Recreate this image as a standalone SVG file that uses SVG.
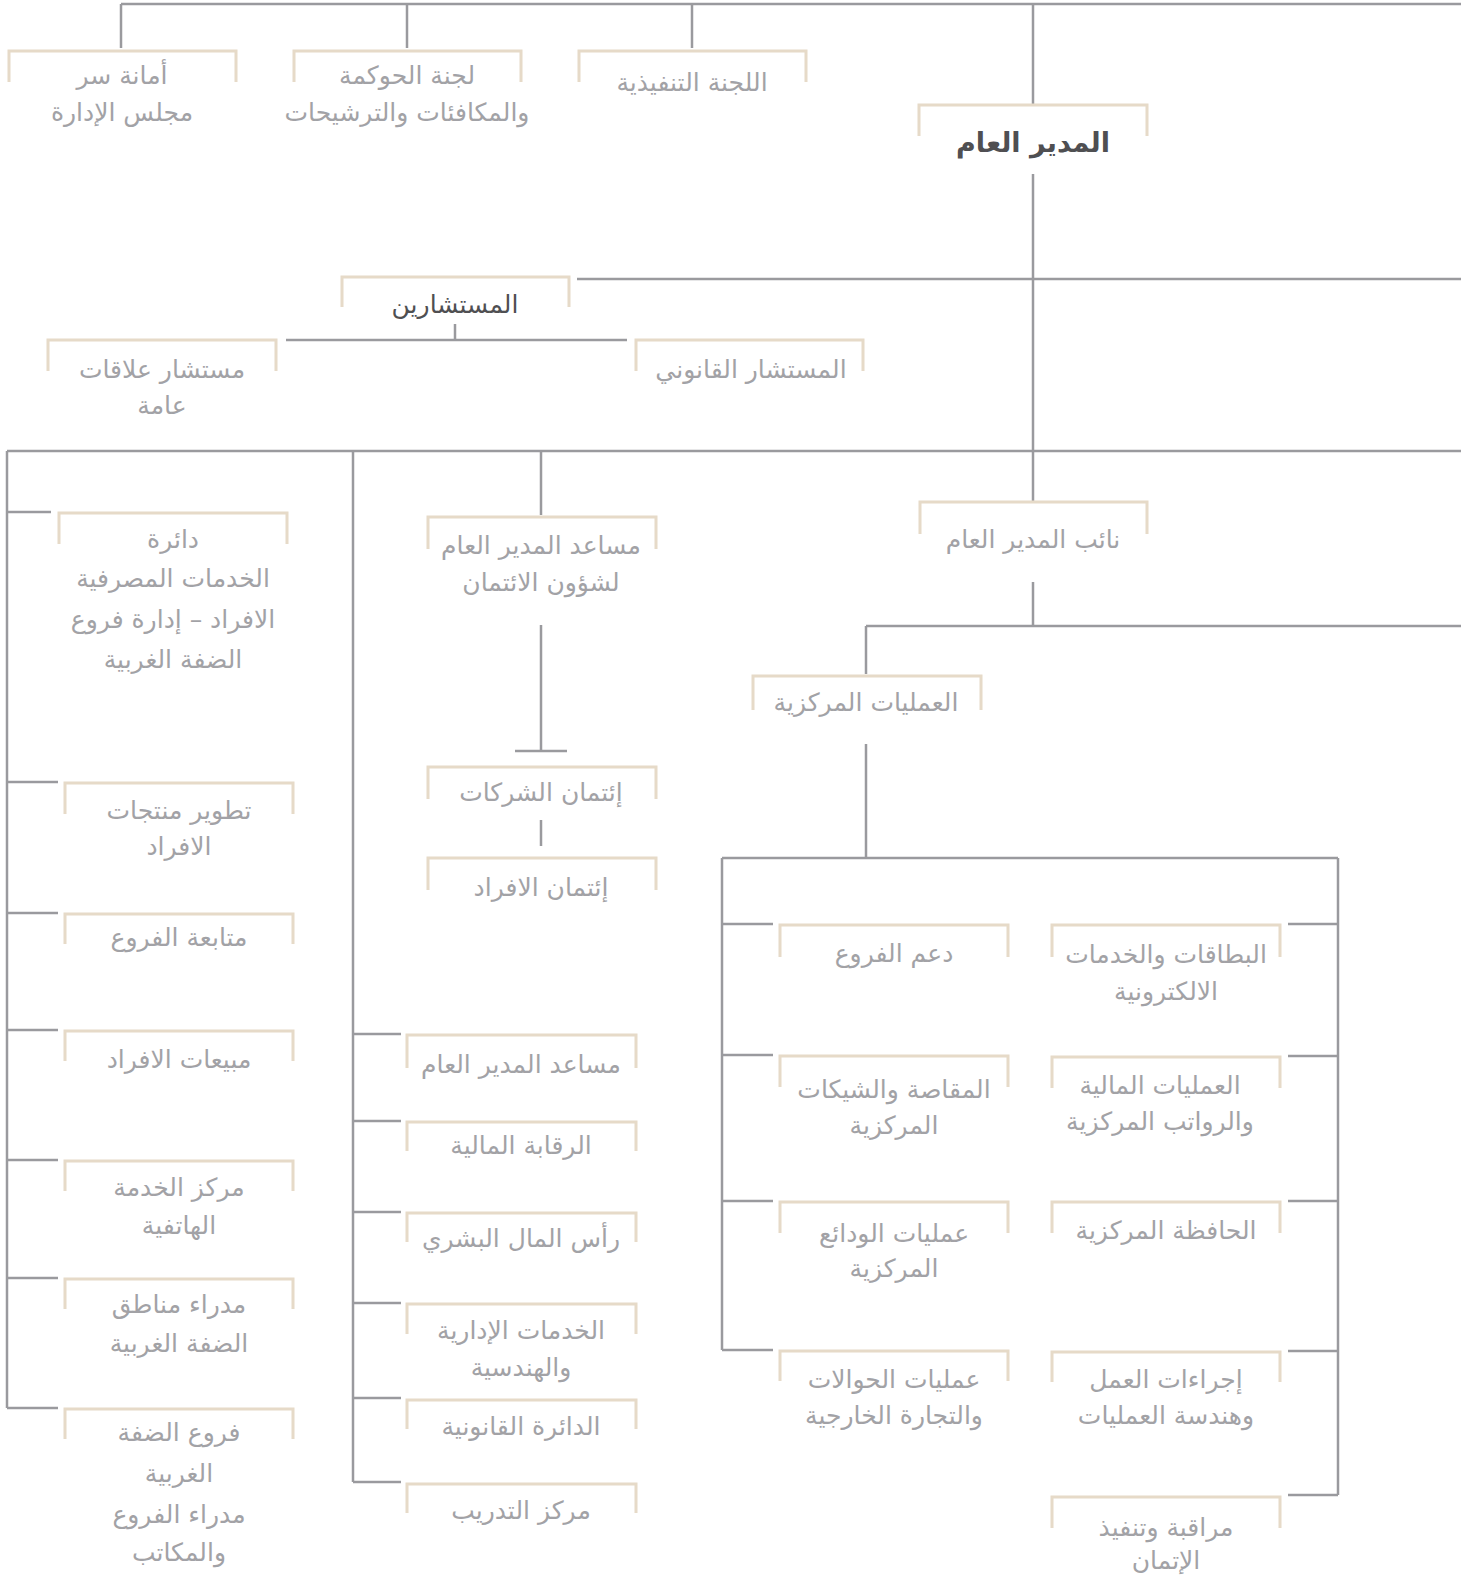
<svg xmlns="http://www.w3.org/2000/svg" width="1461" height="1580" viewBox="0 0 1461 1580">
<style>
.c{fill:none;stroke:#9a9a9e;stroke-width:2.5}
.b{fill:none;stroke:#e6dac8;stroke-width:3}
.t{font-family:"DejaVu Sans",sans-serif;font-size:25px;fill:#a2a2a6;text-anchor:middle}
.d{fill:#4f4f52}
.bold{font-weight:bold;font-size:27px}
</style>
<rect width="1461" height="1580" fill="#ffffff"/>
<g id="connectors">
<path class="c" d="M121,4 H1461 M121,4 V48 M407,4 V48 M692,4 V48 M1033,4 V104"/>
<path class="c" d="M1033,174 V501 M577,279 H1461 M455,324 V340 M286,340 H627"/>
<path class="c" d="M7,451 H1461 M7,451 V1408 M353,451 V1482 M541,451 V515"/>
<path class="c" d="M7,512 H51 M7,782 H58 M7,913 H58 M7,1030 H58 M7,1160 H58 M7,1278 H58 M7,1408 H58"/>
<path class="c" d="M353,1034 H401 M353,1121 H401 M353,1212 H401 M353,1303 H401 M353,1398 H401 M353,1482 H401"/>
<path class="c" d="M541,625 V751 M515,751 H567 M541,820 V846"/>
<path class="c" d="M1033,582 V626 M866,626 H1461 M866,626 V674 M866,744 V858"/>
<path class="c" d="M722,858 H1338 M722,858 V1350 M1338,858 V1495"/>
<path class="c" d="M722,924 H773 M722,1055 H773 M722,1201 H773 M722,1350 H773"/>
<path class="c" d="M1288,924 H1338 M1288,1056 H1338 M1288,1201 H1338 M1288,1351 H1338 M1288,1495 H1338"/>
</g>
<g id="n-amanat">
<path class="b" d="M9,82 V51 H236 V82"/>
<text class="t" x="122" y="84">أمانة سر</text>
<text class="t" x="122" y="121">مجلس الإدارة</text>
</g>
<g id="n-governance">
<path class="b" d="M294,82 V51 H521 V82"/>
<text class="t" x="407" y="84">لجنة الحوكمة</text>
<text class="t" x="407" y="121">والمكافئات والترشيحات</text>
</g>
<g id="n-executive">
<path class="b" d="M579,82 V51 H806 V82"/>
<text class="t" x="692" y="91">اللجنة التنفيذية</text>
</g>
<g id="n-gm">
<path class="b" d="M919,136 V105 H1147 V136"/>
<text class="t d bold" x="1033" y="152">المدير العام</text>
</g>
<g id="n-advisors">
<path class="b" d="M342,307 V277 H569 V307"/>
<text class="t d" x="455" y="313">المستشارين</text>
</g>
<g id="n-pr">
<path class="b" d="M48,371 V340 H276 V371"/>
<text class="t" x="162" y="378">مستشار علاقات</text>
<text class="t" x="162" y="414">عامة</text>
</g>
<g id="n-legal-adv">
<path class="b" d="M636,371 V340 H863 V371"/>
<text class="t" x="751" y="378">المستشار القانوني</text>
</g>
<g id="n-retail">
<path class="b" d="M59,544 V513 H287 V544"/>
<text class="t" x="173" y="548">دائرة</text>
<text class="t" x="173" y="587">الخدمات المصرفية</text>
<text class="t" x="173" y="628">الافراد – إدارة فروع</text>
<text class="t" x="173" y="668">الضفة الغربية</text>
</g>
<g id="n-product">
<path class="b" d="M65,814 V783 H293 V814"/>
<text class="t" x="179" y="819">تطوير منتجات</text>
<text class="t" x="179" y="855">الافراد</text>
</g>
<g id="n-branch-follow">
<path class="b" d="M65,944 V914 H293 V944"/>
<text class="t" x="179" y="946">متابعة الفروع</text>
</g>
<g id="n-sales">
<path class="b" d="M65,1061 V1031 H293 V1061"/>
<text class="t" x="179" y="1068">مبيعات الافراد</text>
</g>
<g id="n-callcenter">
<path class="b" d="M65,1191 V1161 H293 V1191"/>
<text class="t" x="179" y="1196">مركز الخدمة</text>
<text class="t" x="179" y="1234">الهاتفية</text>
</g>
<g id="n-regions">
<path class="b" d="M65,1309 V1279 H293 V1309"/>
<text class="t" x="179" y="1313">مدراء مناطق</text>
<text class="t" x="179" y="1352">الضفة الغربية</text>
</g>
<g id="n-wb-branches">
<path class="b" d="M65,1439 V1409 H293 V1439"/>
<text class="t" x="179" y="1441">فروع الضفة</text>
<text class="t" x="179" y="1482">الغربية</text>
<text class="t" x="179" y="1523">مدراء الفروع</text>
<text class="t" x="179" y="1561">والمكاتب</text>
</g>
<g id="n-agm-credit">
<path class="b" d="M428,549 V517 H656 V549"/>
<text class="t" x="541" y="554">مساعد المدير العام</text>
<text class="t" x="541" y="591">لشؤون الائتمان</text>
</g>
<g id="n-corp-credit">
<path class="b" d="M428,799 V767 H656 V799"/>
<text class="t" x="541" y="801">إئتمان الشركات</text>
</g>
<g id="n-retail-credit">
<path class="b" d="M428,890 V858 H656 V890"/>
<text class="t" x="541" y="896">إئتمان الافراد</text>
</g>
<g id="n-agm">
<path class="b" d="M407,1068 V1035 H636 V1068"/>
<text class="t" x="521" y="1073">مساعد المدير العام</text>
</g>
<g id="n-fin-control">
<path class="b" d="M407,1151 V1122 H636 V1151"/>
<text class="t" x="521" y="1154">الرقابة المالية</text>
</g>
<g id="n-hr">
<path class="b" d="M407,1242 V1213 H636 V1242"/>
<text class="t" x="521" y="1247">رأس المال البشري</text>
</g>
<g id="n-admin">
<path class="b" d="M407,1334 V1304 H636 V1334"/>
<text class="t" x="521" y="1339">الخدمات الإدارية</text>
<text class="t" x="521" y="1376">والهندسية</text>
</g>
<g id="n-legal">
<path class="b" d="M407,1429 V1400 H636 V1429"/>
<text class="t" x="521" y="1435">الدائرة القانونية</text>
</g>
<g id="n-training">
<path class="b" d="M407,1513 V1484 H636 V1513"/>
<text class="t" x="521" y="1519">مركز التدريب</text>
</g>
<g id="n-deputy">
<path class="b" d="M920,534 V502 H1147 V534"/>
<text class="t" x="1033" y="548">نائب المدير العام</text>
</g>
<g id="n-central-ops">
<path class="b" d="M753,710 V676 H981 V710"/>
<text class="t" x="866" y="711">العمليات المركزية</text>
</g>
<g id="n-branch-support">
<path class="b" d="M780,957 V925 H1008 V957"/>
<text class="t" x="894" y="962">دعم الفروع</text>
</g>
<g id="n-clearing">
<path class="b" d="M780,1087 V1056 H1008 V1087"/>
<text class="t" x="894" y="1098">المقاصة والشيكات</text>
<text class="t" x="894" y="1134">المركزية</text>
</g>
<g id="n-deposits">
<path class="b" d="M780,1233 V1202 H1008 V1233"/>
<text class="t" x="894" y="1242">عمليات الودائع</text>
<text class="t" x="894" y="1277">المركزية</text>
</g>
<g id="n-transfers">
<path class="b" d="M780,1381 V1351 H1008 V1381"/>
<text class="t" x="894" y="1388">عمليات الحوالات</text>
<text class="t" x="894" y="1424">والتجارة الخارجية</text>
</g>
<g id="n-cards">
<path class="b" d="M1052,957 V925 H1280 V957"/>
<text class="t" x="1166" y="963">البطاقات والخدمات</text>
<text class="t" x="1166" y="1000">الالكترونية</text>
</g>
<g id="n-fin-ops">
<path class="b" d="M1052,1088 V1057 H1280 V1088"/>
<text class="t" x="1160" y="1094">العمليات المالية</text>
<text class="t" x="1160" y="1130">والرواتب المركزية</text>
</g>
<g id="n-portfolio">
<path class="b" d="M1052,1233 V1202 H1280 V1233"/>
<text class="t" x="1166" y="1239">الحافظة المركزية</text>
</g>
<g id="n-procedures">
<path class="b" d="M1052,1382 V1352 H1280 V1382"/>
<text class="t" x="1166" y="1388">إجراءات العمل</text>
<text class="t" x="1166" y="1424">وهندسة العمليات</text>
</g>
<g id="n-credit-monitor">
<path class="b" d="M1052,1528 V1497 H1280 V1528"/>
<text class="t" x="1166" y="1536">مراقبة وتنفيذ</text>
<text class="t" x="1166" y="1569">الإتمان</text>
</g>
</svg>
